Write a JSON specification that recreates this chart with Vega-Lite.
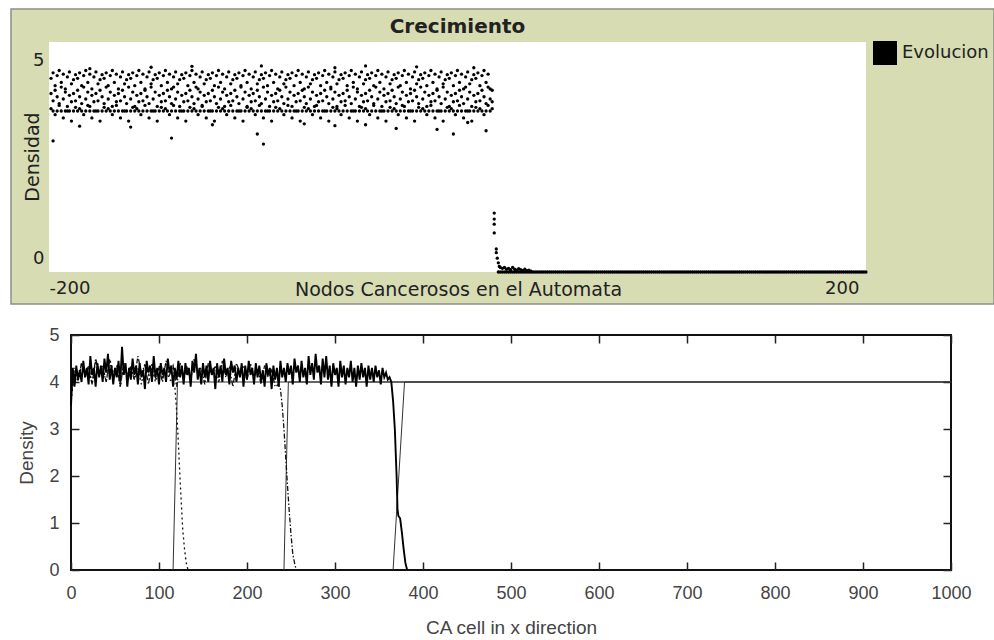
{
  "$schema": "https://vega.github.io/schema/vega-lite/v6.json",
  "padding": {"left": 10, "top": 8, "right": 1, "bottom": 0},
  "background": "white",
  "bounds": "flush",
  "spacing": 31,
  "config": {"font": "DejaVu Sans", "axis": {"grid": false}},
  "vconcat": [
    {
      "width": 983,
      "height": 295,
      "view": {"fill": "#d7dcb3", "stroke": "#8f8f88", "strokeWidth": 1.5},
      "layer": [
        {
          "data": {"values": [{}]},
          "mark": {"type": "rect", "fill": "white"},
          "encoding": {
            "x": {"datum": -200, "type": "quantitative", "scale": {"domain": [-218.6, 262.7], "nice": false, "zero": false},
              "axis": {"orient": "top", "values": [0], "labels": false, "ticks": false, "domain": false, "grid": false,
                "title": "Crecimiento", "titleFont": "DejaVu Sans", "titleFontSize": 20, "titleFontWeight": "bold", "titleColor": "#222",
                "titleX": 446, "titleY": 23, "titleBaseline": "alphabetic", "titleAlign": "center"}},
            "x2": {"datum": 200},
            "y": {"datum": 0, "type": "quantitative", "scale": {"domain": [-0.696, 5.717], "nice": false, "zero": false}, "axis": null},
            "y2": {"datum": 5}
          }
        },
        {
          "data": {
            "values": "x,y\n-199,4.21\n-199,3.88\n-199,3.55\n-198,4.33\n-198,3.72\n-197,4.05\n-197,3.95\n-197,3.42\n-196,4.27\n-196,3.81\n-195,4.38\n-195,3.66\n-195,3.62\n-194,4.12\n-194,4.02\n-193,4.30\n-193,3.76\n-193,3.35\n-192,3.98\n-192,3.91\n-191,4.24\n-191,3.60\n-191,3.50\n-190,4.35\n-190,3.84\n-189,4.09\n-189,3.70\n-189,3.28\n-188,4.18\n-188,3.88\n-187,4.29\n-187,3.72\n-187,3.58\n-186,4.21\n-186,3.95\n-185,4.33\n-185,3.81\n-185,3.55\n-184,4.05\n-184,3.66\n-183,4.27\n-183,4.02\n-183,3.42\n-182,4.38\n-182,3.76\n-181,4.12\n-181,3.91\n-181,3.62\n-180,4.30\n-180,3.60\n-179,3.98\n-179,3.84\n-179,3.35\n-178,4.24\n-178,3.70\n-177,4.35\n-177,3.88\n-177,3.50\n-176,4.09\n-176,3.72\n-175,4.18\n-175,3.95\n-175,3.28\n-174,4.29\n-174,3.81\n-173,4.21\n-173,3.66\n-173,3.58\n-172,4.33\n-172,4.02\n-171,4.05\n-171,3.76\n-171,3.55\n-170,4.27\n-170,3.91\n-169,4.38\n-169,3.60\n-169,3.42\n-168,4.12\n-168,3.84\n-167,4.30\n-167,3.70\n-167,3.62\n-166,3.98\n-166,3.88\n-165,4.24\n-165,3.72\n-165,3.35\n-164,4.35\n-164,3.95\n-163,4.09\n-163,3.81\n-163,3.50\n-162,4.18\n-162,3.66\n-161,4.29\n-161,4.02\n-161,3.28\n-160,4.21\n-160,3.76\n-159,4.33\n-159,3.91\n-159,3.58\n-158,4.05\n-158,3.60\n-157,4.27\n-157,3.84\n-157,3.55\n-156,4.38\n-156,3.70\n-155,4.12\n-155,3.88\n-155,3.42\n-154,4.30\n-154,3.72\n-153,3.98\n-153,3.95\n-153,3.62\n-152,4.24\n-152,3.81\n-151,4.35\n-151,3.66\n-151,3.35\n-150,4.09\n-150,4.02\n-149,4.18\n-149,3.76\n-149,3.50\n-148,4.29\n-148,3.91\n-147,4.21\n-147,3.60\n-147,3.28\n-146,4.33\n-146,3.84\n-145,4.05\n-145,3.70\n-145,3.58\n-144,4.27\n-144,3.88\n-143,4.38\n-143,3.72\n-143,3.55\n-142,4.12\n-142,3.95\n-141,4.30\n-141,3.81\n-141,3.42\n-140,3.98\n-140,3.66\n-139,4.24\n-139,4.02\n-139,3.62\n-138,4.35\n-138,3.76\n-137,4.09\n-137,3.91\n-137,3.35\n-136,4.18\n-136,3.60\n-135,4.29\n-135,3.84\n-135,3.50\n-134,4.21\n-134,3.70\n-133,4.33\n-133,3.88\n-133,3.28\n-132,4.05\n-132,3.72\n-131,4.27\n-131,3.95\n-131,3.58\n-130,4.38\n-130,3.81\n-129,4.12\n-129,3.66\n-129,3.55\n-128,4.30\n-128,4.02\n-127,3.98\n-127,3.76\n-127,3.42\n-126,4.24\n-126,3.91\n-125,4.35\n-125,3.60\n-125,3.62\n-124,4.09\n-124,3.84\n-123,4.18\n-123,3.70\n-123,3.35\n-122,4.29\n-122,3.88\n-121,4.21\n-121,3.72\n-121,3.50\n-120,4.33\n-120,3.95\n-119,4.05\n-119,3.81\n-119,3.28\n-118,4.27\n-118,3.66\n-117,4.38\n-117,4.02\n-117,3.58\n-116,4.12\n-116,3.76\n-115,4.30\n-115,3.91\n-115,3.55\n-114,3.98\n-114,3.60\n-113,4.24\n-113,3.84\n-113,3.42\n-112,4.35\n-112,3.70\n-111,4.09\n-111,3.88\n-111,3.62\n-110,4.18\n-110,3.72\n-109,4.29\n-109,3.95\n-109,3.35\n-108,4.21\n-108,3.81\n-107,4.33\n-107,3.66\n-107,3.50\n-106,4.05\n-106,4.02\n-105,4.27\n-105,3.76\n-105,3.28\n-104,4.38\n-104,3.91\n-103,4.12\n-103,3.60\n-103,3.58\n-102,4.30\n-102,3.84\n-101,3.98\n-101,3.70\n-101,3.55\n-100,4.24\n-100,3.88\n-99,4.35\n-99,3.72\n-99,3.42\n-98,4.09\n-98,3.95\n-97,4.18\n-97,3.81\n-97,3.62\n-96,4.29\n-96,3.66\n-95,4.21\n-95,4.02\n-95,3.35\n-94,4.33\n-94,3.76\n-93,4.05\n-93,3.91\n-93,3.50\n-92,4.27\n-92,3.60\n-91,4.38\n-91,3.84\n-91,3.28\n-90,4.12\n-90,3.70\n-89,4.30\n-89,3.88\n-89,3.58\n-88,3.98\n-88,3.72\n-87,4.24\n-87,3.95\n-87,3.55\n-86,4.35\n-86,3.81\n-85,4.09\n-85,3.66\n-85,3.42\n-84,4.18\n-84,4.02\n-83,4.29\n-83,3.76\n-83,3.62\n-82,4.21\n-82,3.91\n-81,4.33\n-81,3.60\n-81,3.35\n-80,4.05\n-80,3.84\n-79,4.27\n-79,3.70\n-79,3.50\n-78,4.38\n-78,3.88\n-77,4.12\n-77,3.72\n-77,3.28\n-76,4.30\n-76,3.95\n-75,3.98\n-75,3.81\n-75,3.58\n-74,4.24\n-74,3.66\n-73,4.35\n-73,4.02\n-73,3.55\n-72,4.09\n-72,3.76\n-71,4.18\n-71,3.91\n-71,3.42\n-70,4.29\n-70,3.60\n-69,4.21\n-69,3.84\n-69,3.62\n-68,4.33\n-68,3.70\n-67,4.05\n-67,3.88\n-67,3.35\n-66,4.27\n-66,3.72\n-65,4.38\n-65,3.95\n-65,3.50\n-64,4.12\n-64,3.81\n-63,4.30\n-63,3.66\n-63,3.28\n-62,3.98\n-62,4.02\n-61,4.24\n-61,3.76\n-61,3.58\n-60,4.35\n-60,3.91\n-59,4.09\n-59,3.60\n-59,3.55\n-58,4.18\n-58,3.84\n-57,4.29\n-57,3.70\n-57,3.42\n-56,4.21\n-56,3.88\n-55,4.33\n-55,3.72\n-55,3.62\n-54,4.05\n-54,3.95\n-53,4.27\n-53,3.81\n-53,3.35\n-52,4.38\n-52,3.66\n-51,4.12\n-51,4.02\n-51,3.50\n-50,4.30\n-50,3.76\n-49,3.98\n-49,3.91\n-49,3.28\n-48,4.24\n-48,3.60\n-47,4.35\n-47,3.84\n-47,3.58\n-46,4.09\n-46,3.70\n-45,4.18\n-45,3.88\n-45,3.55\n-44,4.29\n-44,3.72\n-43,4.21\n-43,3.95\n-43,3.42\n-42,4.33\n-42,3.81\n-41,4.05\n-41,3.66\n-41,3.62\n-40,4.27\n-40,4.02\n-39,4.38\n-39,3.76\n-39,3.35\n-38,4.12\n-38,3.91\n-37,4.30\n-37,3.60\n-37,3.50\n-36,3.98\n-36,3.84\n-35,4.24\n-35,3.70\n-35,3.28\n-34,4.35\n-34,3.88\n-33,4.09\n-33,3.72\n-33,3.58\n-32,4.18\n-32,3.95\n-31,4.29\n-31,3.81\n-31,3.55\n-30,4.21\n-30,3.66\n-29,4.33\n-29,4.02\n-29,3.42\n-28,4.05\n-28,3.76\n-27,4.27\n-27,3.91\n-27,3.62\n-26,4.38\n-26,3.60\n-25,4.12\n-25,3.84\n-25,3.35\n-24,4.30\n-24,3.70\n-23,3.98\n-23,3.88\n-23,3.50\n-22,4.24\n-22,3.72\n-21,4.35\n-21,3.95\n-21,3.28\n-20,4.09\n-20,3.81\n-19,4.18\n-19,3.66\n-19,3.58\n-18,4.29\n-18,4.02\n-17,4.21\n-17,3.76\n-17,3.55\n-16,4.33\n-16,3.91\n-15,4.05\n-15,3.60\n-15,3.42\n-14,4.27\n-14,3.84\n-13,4.38\n-13,3.70\n-13,3.62\n-12,4.12\n-12,3.88\n-11,4.30\n-11,3.72\n-11,3.35\n-10,3.98\n-10,3.95\n-9,4.24\n-9,3.81\n-9,3.50\n-8,4.35\n-8,3.66\n-7,4.09\n-7,4.02\n-7,3.28\n-6,4.18\n-6,3.76\n-5,4.29\n-5,3.91\n-5,3.58\n-4,4.21\n-4,3.60\n-3,4.33\n-3,3.84\n-3,3.55\n-2,4.05\n-2,3.70\n-1,4.27\n-1,3.88\n-1,3.42\n0,4.38\n0,3.72\n1,4.12\n1,3.95\n1,3.62\n2,4.30\n2,3.81\n3,3.98\n3,3.66\n3,3.35\n4,4.24\n4,4.02\n5,4.35\n5,3.76\n5,3.50\n6,4.09\n6,3.91\n7,4.18\n7,3.60\n7,3.28\n8,4.29\n8,3.84\n9,4.21\n9,3.70\n9,3.58\n10,4.33\n10,3.88\n11,4.05\n11,3.72\n11,3.55\n12,4.27\n12,3.95\n13,4.38\n13,3.81\n13,3.42\n14,4.12\n14,3.66\n15,4.30\n15,4.02\n15,3.62\n16,3.98\n16,3.76\n-198,3.5\n-196,3.5\n-194,3.5\n-192,3.5\n-190,3.5\n-188,3.5\n-186,3.5\n-184,3.5\n-182,3.5\n-180,3.5\n-178,3.5\n-176,3.5\n-174,3.5\n-172,3.5\n-170,3.5\n-168,3.5\n-166,3.5\n-164,3.5\n-162,3.5\n-160,3.5\n-158,3.5\n-156,3.5\n-154,3.5\n-152,3.5\n-150,3.5\n-148,3.5\n-146,3.5\n-144,3.5\n-142,3.5\n-140,3.5\n-138,3.5\n-136,3.5\n-134,3.5\n-132,3.5\n-130,3.5\n-128,3.5\n-126,3.5\n-124,3.5\n-122,3.5\n-120,3.5\n-118,3.5\n-116,3.5\n-114,3.5\n-112,3.5\n-110,3.5\n-108,3.5\n-106,3.5\n-104,3.5\n-102,3.5\n-100,3.5\n-98,3.5\n-96,3.5\n-94,3.5\n-92,3.5\n-90,3.5\n-88,3.5\n-86,3.5\n-84,3.5\n-82,3.5\n-80,3.5\n-78,3.5\n-76,3.5\n-74,3.5\n-72,3.5\n-70,3.5\n-68,3.5\n-66,3.5\n-64,3.5\n-62,3.5\n-60,3.5\n-58,3.5\n-56,3.5\n-54,3.5\n-52,3.5\n-50,3.5\n-48,3.5\n-46,3.5\n-44,3.5\n-42,3.5\n-40,3.5\n-38,3.5\n-36,3.5\n-34,3.5\n-32,3.5\n-30,3.5\n-28,3.5\n-26,3.5\n-24,3.5\n-22,3.5\n-20,3.5\n-18,3.5\n-16,3.5\n-14,3.5\n-12,3.5\n-10,3.5\n-8,3.5\n-6,3.5\n-4,3.5\n-2,3.5\n0,3.5\n2,3.5\n4,3.5\n6,3.5\n8,3.5\n10,3.5\n12,3.5\n14,3.5\n16,3.5\n-198,2.85\n-140,2.91\n-98,3.0\n-95,2.78\n-2,3.0\n14,3.07\n-160,3.15\n-120,3.2\n-60,3.18\n-30,3.12\n-75,3.22\n-185,3.17\n5,3.25\n-10,3.1\n-45,3.2\n-96,4.48\n-45,4.48\n-150,4.45\n-180,4.42\n-20,4.46\n8,4.44\n-130,4.47\n-60,4.44\n17,3.95\n17,3.7\n17,3.55\n18,1.28\n18,1.15\n18,1.04\n18,0.85\n19,0.5\n19,0.42\n19.5,0.3\n20,0.2\n20.5,0.12\n21,0.1\n22,0.08\n23,0.1\n24,0.06\n25,0.08\n26,0.05\n27,0.1\n28,0.06\n29,0.04\n30,0.07\n31,0.05\n32,0.03\n33,0.06\n34,0.03\n35,0.04\n36,0.02\n20,0\n21,0\n22,0\n23,0\n24,0\n25,0\n26,0\n27,0\n28,0\n29,0\n30,0\n31,0\n32,0\n33,0\n34,0\n35,0\n36,0\n37,0\n38,0\n39,0\n40,0\n41,0\n42,0\n43,0\n44,0\n45,0\n46,0\n47,0\n48,0\n49,0\n50,0\n51,0\n52,0\n53,0\n54,0\n55,0\n56,0\n57,0\n58,0\n59,0\n60,0\n61,0\n62,0\n63,0\n64,0\n65,0\n66,0\n67,0\n68,0\n69,0\n70,0\n71,0\n72,0\n73,0\n74,0\n75,0\n76,0\n77,0\n78,0\n79,0\n80,0\n81,0\n82,0\n83,0\n84,0\n85,0\n86,0\n87,0\n88,0\n89,0\n90,0\n91,0\n92,0\n93,0\n94,0\n95,0\n96,0\n97,0\n98,0\n99,0\n100,0\n101,0\n102,0\n103,0\n104,0\n105,0\n106,0\n107,0\n108,0\n109,0\n110,0\n111,0\n112,0\n113,0\n114,0\n115,0\n116,0\n117,0\n118,0\n119,0\n120,0\n121,0\n122,0\n123,0\n124,0\n125,0\n126,0\n127,0\n128,0\n129,0\n130,0\n131,0\n132,0\n133,0\n134,0\n135,0\n136,0\n137,0\n138,0\n139,0\n140,0\n141,0\n142,0\n143,0\n144,0\n145,0\n146,0\n147,0\n148,0\n149,0\n150,0\n151,0\n152,0\n153,0\n154,0\n155,0\n156,0\n157,0\n158,0\n159,0\n160,0\n161,0\n162,0\n163,0\n164,0\n165,0\n166,0\n167,0\n168,0\n169,0\n170,0\n171,0\n172,0\n173,0\n174,0\n175,0\n176,0\n177,0\n178,0\n179,0\n180,0\n181,0\n182,0\n183,0\n184,0\n185,0\n186,0\n187,0\n188,0\n189,0\n190,0\n191,0\n192,0\n193,0\n194,0\n195,0\n196,0\n197,0\n198,0\n199,0\n200,0",
            "format": {"type": "csv", "parse": {"x": "number", "y": "number"}}
          },
          "mark": {"type": "circle", "size": 11, "opacity": 1},
          "encoding": {
            "x": {"field": "x", "type": "quantitative", "scale": {"domain": [-218.6, 262.7], "nice": false, "zero": false},
              "axis": {"orient": "bottom", "values": [-200, 200], "labelExpr": "'' + datum.value", "domain": false, "ticks": false, "grid": false, "offset": -32, "labelPadding": 7, "labelFlush": false, "labelOverlap": false,
                "labelFont": "DejaVu Sans", "labelFontSize": 18, "labelColor": "#222",
                "labelAlign": {"condition": {"test": "datum.value < 0", "value": "left"}, "value": "right"},
                "labelOffset": {"condition": {"test": "datum.value > 0", "value": -7}, "value": 0},
                "title": "Nodos Cancerosos en el Automata", "titleFont": "DejaVu Sans", "titleFontSize": 19, "titleFontWeight": "normal", "titleColor": "#222",
                "titleX": 447, "titleY": 17, "titleBaseline": "middle", "titleAlign": "center"}},
            "y": {"field": "y", "type": "quantitative", "scale": {"domain": [-0.696, 5.717], "nice": false, "zero": false},
              "axis": {"orient": "left", "values": [0, 5], "domain": false, "ticks": false, "grid": false, "offset": -38, "labelPadding": 5, "labelFlush": false, "labelOverlap": false,
                "labelFont": "DejaVu Sans", "labelFontSize": 18, "labelColor": "#222", "labelBaseline": "middle",
                "labelOffset": {"condition": {"test": "datum.value > 4", "value": 19}, "value": -13},
                "title": "Densidad", "titleFont": "DejaVu Sans", "titleFontSize": 19, "titleFontWeight": "normal", "titleColor": "#222",
                "titleX": -17, "titleBaseline": "middle", "titleAlign": "center"}},
            "color": {"datum": "Evolucion", "scale": {"range": ["#000000"]},
              "legend": {"title": null, "orient": "none", "legendX": 862, "legendY": 32, "symbolType": "square", "symbolSize": 576,
                "symbolFillColor": "#000", "symbolStrokeColor": "#000", "symbolStrokeWidth": 0, "symbolOpacity": 1,
                "labelFont": "DejaVu Sans", "labelFontSize": 18, "labelColor": "#222", "labelOffset": 5, "padding": 0}}
          }
        }
      ],
      "resolve": {"axis": {"x": "independent", "y": "independent"}}
    },
    {
      "hconcat": [
        {
          "width": 60,
          "height": 235,
          "view": {"stroke": null, "fill": null},
          "data": {"values": [{}]},
          "mark": {"type": "point", "opacity": 0},
          "encoding": {}
        },
        {
          "width": 880,
          "height": 235,
          "view": {"stroke": "#111", "strokeWidth": 2, "fill": "white"},
          "data": {
            "values": "s,x,y\nc,0,3.5\nc,2,4.3\nc,4,3.9\nc,6,4.35\nc,8,4.05\nc,10,4.25\nc,12,4.0\nc,14,4.45\nc,16,4.1\nc,18,4.3\nc,20,3.95\nc,22,4.55\nc,24,4.15\nc,26,4.3\nc,28,3.9\nc,30,4.4\nc,32,4.1\nc,34,4.35\nc,36,4.0\nc,38,4.5\nc,40,4.2\nc,42,4.6\nc,44,4.05\nc,46,4.35\nc,48,3.95\nc,50,4.3\nc,52,4.1\nc,54,4.45\nc,56,4.0\nc,58,4.75\nc,60,4.15\nc,62,4.4\nc,64,3.9\nc,66,4.3\nc,68,4.05\nc,70,4.5\nc,72,4.15\nc,74,4.35\nc,76,3.95\nc,78,4.4\nc,80,4.1\nc,82,4.25\nc,84,3.85\nc,86,4.45\nc,88,4.2\nc,90,4.35\nc,92,4.0\nc,94,4.55\nc,96,4.1\nc,98,4.3\nc,100,3.95\nc,102,4.4\nc,104,4.15\nc,106,4.3\nc,108,4.0\nc,110,4.5\nc,112,4.2\nc,114,4.35\nc,116,3.9\nc,118,4.3\nc,120,4.05\nc,122,4.45\nc,124,4.1\nc,126,4.35\nc,128,3.95\nc,130,4.4\nc,132,4.15\nc,134,4.3\nc,136,3.9\nc,138,4.45\nc,140,4.2\nc,142,4.6\nc,144,4.05\nc,146,4.3\nc,148,3.95\nc,150,4.4\nc,152,4.1\nc,154,4.35\nc,156,4.0\nc,158,4.45\nc,160,4.15\nc,162,4.3\nc,164,3.85\nc,166,4.4\nc,168,4.1\nc,170,4.35\nc,172,4.0\nc,174,4.5\nc,176,4.15\nc,178,4.3\nc,180,3.95\nc,182,4.45\nc,184,4.2\nc,186,4.35\nc,188,4.0\nc,190,4.3\nc,192,4.1\nc,194,4.4\nc,196,3.9\nc,198,4.35\nc,200,4.05\nc,202,4.45\nc,204,4.15\nc,206,4.3\nc,208,3.95\nc,210,4.4\nc,212,4.1\nc,214,4.35\nc,216,4.0\nc,218,4.25\nc,220,3.9\nc,222,4.4\nc,224,4.15\nc,226,4.3\nc,228,3.85\nc,230,4.35\nc,232,4.05\nc,234,4.3\nc,236,3.9\nc,238,4.45\nc,240,4.1\nc,242,4.3\nc,244,4.0\nc,246,4.4\nc,248,4.15\nc,250,4.35\nc,252,3.95\nc,254,4.5\nc,256,4.2\nc,258,4.35\nc,260,4.0\nc,262,4.45\nc,264,4.1\nc,266,4.3\nc,268,3.95\nc,270,4.55\nc,272,4.15\nc,274,4.4\nc,276,4.05\nc,278,4.6\nc,280,4.2\nc,282,4.35\nc,284,3.95\nc,286,4.5\nc,288,4.1\nc,290,4.55\nc,292,4.05\nc,294,4.35\nc,296,3.9\nc,298,4.4\nc,300,4.15\nc,302,4.3\nc,304,3.9\nc,306,4.45\nc,308,4.1\nc,310,4.35\nc,312,3.95\nc,314,4.3\nc,316,4.1\nc,318,4.45\nc,320,4.0\nc,322,4.3\nc,324,3.9\nc,326,4.35\nc,328,4.05\nc,330,4.4\nc,332,4.1\nc,334,4.3\nc,336,3.9\nc,338,4.35\nc,340,4.05\nc,342,4.3\nc,344,4.0\nc,346,4.35\nc,348,4.1\nc,350,4.25\nc,352,3.95\nc,354,4.3\nc,356,4.1\nc,358,4.2\nc,360,4.05\nc,362,4.1\nc,364,4.0\nc,366,3.6\nc,368,3.0\nc,370,2.0\nc,371,1.3\nc,372,1.15\nc,374,1.1\nc,376,0.8\nc,378,0.45\nc,380,0.15\nc,382,0\na,0,3.6\na,4,4.2\na,8,4.0\na,12,4.4\na,16,4.1\na,20,4.3\na,24,3.95\na,28,4.45\na,32,4.15\na,36,4.35\na,40,4.0\na,44,4.5\na,48,4.2\na,52,4.3\na,56,3.9\na,60,4.4\na,64,4.1\na,68,4.35\na,72,4.05\na,76,4.3\na,80,3.95\na,84,4.4\na,88,4.15\na,92,4.3\na,96,4.0\na,100,4.35\na,104,4.1\na,108,4.25\na,112,4.05\na,116,4.0\na,118,3.9\na,120,3.4\na,122,2.7\na,124,1.9\na,126,1.2\na,127,0.85\na,129,0.45\na,131,0.15\na,133,0\nb,0,3.7\nb,4,4.3\nb,8,4.05\nb,12,4.4\nb,16,4.15\nb,20,4.35\nb,24,3.95\nb,28,4.5\nb,32,4.2\nb,36,4.3\nb,40,4.0\nb,44,4.45\nb,48,4.1\nb,52,4.35\nb,56,3.9\nb,60,4.4\nb,64,4.15\nb,68,4.3\nb,72,4.05\nb,76,4.55\nb,80,4.2\nb,84,4.35\nb,88,3.95\nb,92,4.4\nb,96,4.1\nb,100,4.3\nb,104,4.0\nb,108,4.45\nb,112,4.15\nb,116,4.35\nb,120,3.9\nb,124,4.4\nb,128,4.1\nb,132,4.3\nb,136,4.05\nb,140,4.5\nb,144,4.2\nb,148,4.3\nb,152,3.95\nb,156,4.4\nb,160,4.15\nb,164,4.35\nb,168,4.0\nb,172,4.45\nb,176,4.1\nb,180,4.3\nb,184,3.9\nb,188,4.4\nb,192,4.2\nb,196,4.35\nb,200,4.05\nb,204,4.4\nb,208,4.1\nb,212,4.3\nb,216,3.95\nb,220,4.35\nb,224,4.1\nb,228,4.25\nb,232,3.9\nb,236,3.95\nb,238,3.85\nb,240,3.5\nb,242,3.0\nb,244,2.4\nb,246,1.8\nb,248,1.25\nb,250,0.75\nb,252,0.35\nb,254,0.15\nb,256,0\nh1,116,0\nh1,121,4\nh1,1000,4\nh2,242,0\nh2,247,4\nh2,1000,4\nh3,366,0\nh3,379,4\nh3,1000,4",
            "format": {"type": "csv", "parse": {"x": "number", "y": "number"}}
          },
          "layer": [
            {
              "transform": [{"filter": "datum.s === 'h1' || datum.s === 'h2' || datum.s === 'h3'"}],
              "mark": {"type": "line", "color": "#333", "strokeWidth": 1},
              "encoding": {
                "x": {"field": "x", "type": "quantitative", "scale": {"domain": [0, 1000], "nice": false, "zero": false}, "axis": null},
                "y": {"field": "y", "type": "quantitative", "scale": {"domain": [0, 5], "nice": false}, "axis": null},
                "detail": {"field": "s", "type": "nominal"}
              }
            },
            {
              "transform": [{"filter": "datum.s === 'a'"}],
              "mark": {"type": "line", "color": "#111", "strokeWidth": 1.3, "strokeDash": [2, 3]},
              "encoding": {
                "x": {"field": "x", "type": "quantitative", "axis": null},
                "y": {"field": "y", "type": "quantitative", "axis": null}
              }
            },
            {
              "transform": [{"filter": "datum.s === 'b'"}],
              "mark": {"type": "line", "color": "#111", "strokeWidth": 1.3, "strokeDash": [5, 2, 1.5, 2]},
              "encoding": {
                "x": {"field": "x", "type": "quantitative", "axis": null},
                "y": {"field": "y", "type": "quantitative", "axis": null}
              }
            },
            {
              "transform": [{"filter": "datum.s === 'c'"}],
              "mark": {"type": "line", "color": "#000", "strokeWidth": 1.9},
              "encoding": {
                "x": {"field": "x", "type": "quantitative",
                  "axis": {"orient": "bottom", "values": [0, 100, 200, 300, 400, 500, 600, 700, 800, 900, 1000], "format": "d", "domain": false, "grid": false,
                    "tickSize": -8, "tickWidth": 1.5, "tickColor": "#222", "labelPadding": 22, "labelFlush": false, "labelOverlap": false,
                    "labelFont": "Liberation Sans", "labelFontSize": 18, "labelColor": "#444",
                    "title": "CA cell in x direction", "titleFont": "Liberation Sans", "titleFontSize": 19, "titleFontWeight": "normal", "titleColor": "#444", "titlePadding": 16}},
                "y": {"field": "y", "type": "quantitative",
                  "axis": {"orient": "left", "values": [0, 1, 2, 3, 4, 5], "domain": false, "grid": false,
                    "tickSize": -8, "tickWidth": 1.5, "tickColor": "#222", "labelPadding": 20, "labelFlush": false, "labelOverlap": false,
                    "labelFont": "Liberation Sans", "labelFontSize": 18, "labelColor": "#444",
                    "title": "Density", "titleFont": "Liberation Sans", "titleFontSize": 19, "titleFontWeight": "normal", "titleColor": "#444", "titlePadding": 12}}
              }
            },
            {
              "transform": [{"filter": "datum.s === 'c'"}],
              "mark": {"type": "line", "opacity": 0},
              "encoding": {
                "x": {"field": "x", "type": "quantitative",
                  "axis": {"orient": "top", "values": [0, 100, 200, 300, 400, 500, 600, 700, 800, 900, 1000], "domain": false, "grid": false, "labels": false, "title": null,
                    "tickSize": -8, "tickWidth": 1.5, "tickColor": "#222"}},
                "y": {"field": "y", "type": "quantitative",
                  "axis": {"orient": "right", "values": [0, 1, 2, 3, 4, 5], "domain": false, "grid": false, "labels": false, "title": null,
                    "tickSize": -8, "tickWidth": 1.5, "tickColor": "#222"}}
              }
            }
          ],
          "resolve": {"axis": {"x": "independent", "y": "independent"}}
        }
      ],
      "spacing": 0,
      "bounds": "flush"
    }
  ]
}
